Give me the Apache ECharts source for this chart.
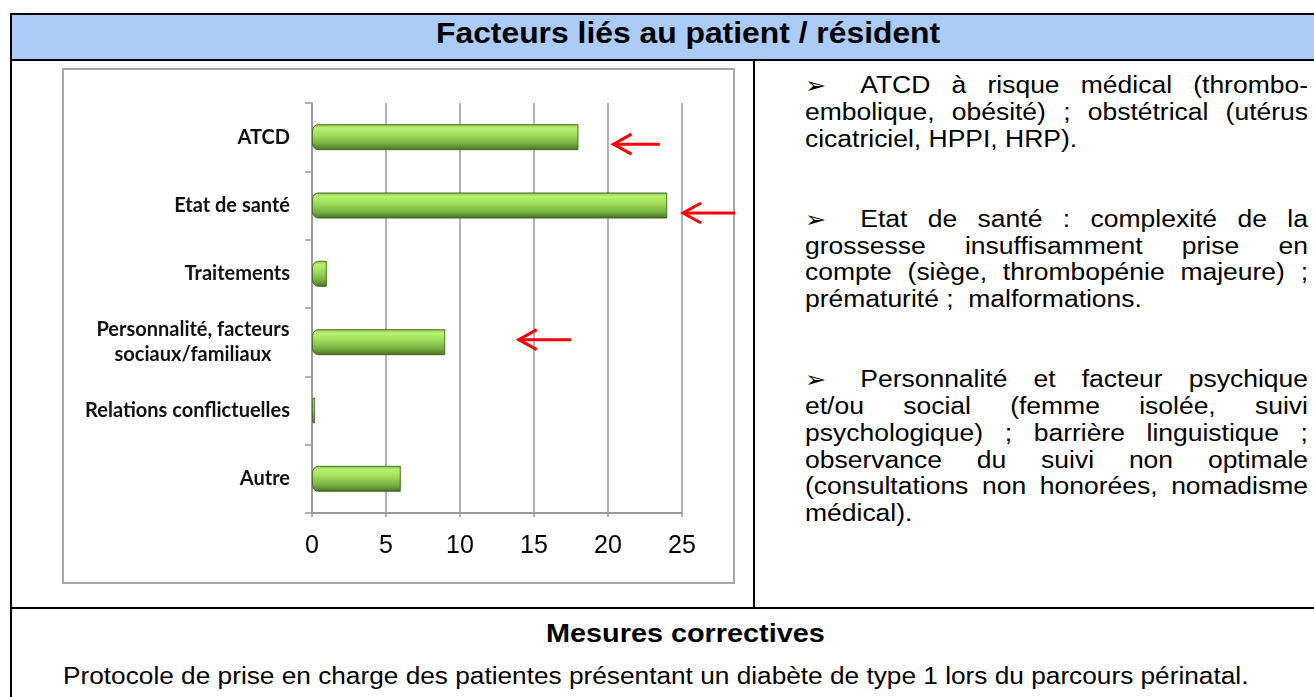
<!DOCTYPE html>
<html>
<head>
<meta charset="utf-8">
<script src="https://cdn.jsdelivr.net/npm/echarts@6/dist/echarts.min.js"></script>
<style>
  body { margin: 0; width: 1314px; height: 697px; overflow: hidden; background: #fff; position: relative;
         font-family: "Liberation Sans", Arial, sans-serif; color: #000; }
  .abs { position: absolute; }
  .fit { position: absolute; white-space: nowrap; transform-origin: 0 0; line-height: 1; }
  #notes { position: absolute; left: 805px; top: 72px; width: 437px; transform-origin: 0 0;
           font-size: 23px; line-height: 26.75px; }
  #notes div { height: 26.75px; text-align: justify; text-align-last: justify; }
  #notes div.last { text-align-last: left; }
  #notes .b { display: inline-block; width: 48px; font-family: "DejaVu Sans", sans-serif; font-size: 22px; }
  #frame { position: absolute; left: 62px; top: 68px; width: 673px; height: 516px; box-sizing: border-box;
           border: 2px solid #a6a6a6; }
  #chart { position: absolute; left: 62px; top: 68px; width: 673px; height: 516px; }
</style>
</head>
<body>
<!-- table frame -->
<div class="abs" style="left:10px;top:13px;width:1400px;height:46px;background:#adcbf7;"></div>
<div class="abs" style="left:10px;top:13px;width:1400px;height:2px;background:#000;"></div>
<div class="abs" style="left:10px;top:13px;width:2px;height:700px;background:#000;"></div>
<div class="abs" style="left:10px;top:59px;width:1400px;height:2px;background:#000;"></div>
<div class="abs" style="left:753px;top:60px;width:2px;height:548px;background:#000;"></div>
<div class="abs" style="left:10px;top:607px;width:1400px;height:2px;background:#000;"></div>

<div class="fit" data-w="504" data-cx="688" style="top:18px;font-size:30px;font-weight:bold;">Facteurs liés au patient / résident</div>

<div id="frame"></div>
<div id="chart"></div>

<div id="notes">
  <div><span class="b">➢</span>ATCD à risque médical (thrombo-</div>
  <div>embolique, obésité) ; obstétrical (utérus</div>
  <div class="last">cicatriciel, HPPI, HRP).</div>
  <div></div><div></div>
  <div><span class="b">➢</span>Etat de santé : complexité de la</div>
  <div>grossesse insuffisamment prise en</div>
  <div>compte (siège, thrombopénie majeure) ;</div>
  <div class="last">prématurité ;&nbsp; malformations.</div>
  <div></div><div></div>
  <div><span class="b">➢</span>Personnalité et facteur psychique</div>
  <div>et/ou social (femme isolée, suivi</div>
  <div>psychologique) ; barrière linguistique ;</div>
  <div>observance du suivi non optimale</div>
  <div>(consultations non honorées, nomadisme</div>
  <div class="last">médical).</div>
</div>

<div class="fit" data-w="279" data-cx="685" style="top:621px;font-size:25px;font-weight:bold;">Mesures correctives</div>
<div class="fit" data-w="1186" data-left="63" style="top:665px;font-size:23px;">Protocole de prise en charge des patientes présentant un diabète de type 1 lors du parcours périnatal.</div>

<script>
// data
const categories = ['ATCD', 'Etat de santé', 'Traitements', 'Personnalité, facteurs\nsociaux/familiaux', 'Relations conflictuelles', 'Autre'];
const values = [18, 24, 1, 9, 0.2, 6];
const xTicks = [0, 5, 10, 15, 20, 25];
// red arrows drawn next to some bars (value positions of tail and tip)
const arrowNotes = [
  { cat: 'ATCD', tail: 23.5, tip: 20.3, dy: 7 },
  { cat: 'Etat de santé', tail: 28.6, tip: 25.0, dy: 7.5 },
  { cat: 'Personnalité, facteurs\nsociaux/familiaux', tail: 17.5, tip: 13.9, dy: -2.5 }
];

// stretch html text to the widths measured on the reference
document.querySelectorAll('.fit').forEach(function (el) {
  const w = +el.dataset.w;
  const s = w / el.offsetWidth;
  el.style.transform = 'scaleX(' + s + ')';
  el.style.left = (el.dataset.cx ? (+el.dataset.cx - w / 2) : +el.dataset.left) + 'px';
});
document.getElementById('notes').style.transform = 'scaleX(1.151)';

const chart = echarts.init(document.getElementById('chart'), null, { renderer: 'canvas' });
const gray = '#9a9a9a';

let option = {
  animation: false,
  grid: { left: 250, right: 53, top: 35, bottom: 71, containLabel: false },
  xAxis: {
    type: 'value',
    min: xTicks[0],
    max: xTicks[xTicks.length - 1],
    interval: xTicks[1] - xTicks[0],
    axisLine: { show: true, lineStyle: { color: gray, width: 2 } },
    axisTick: { show: true, length: 4, lineStyle: { color: gray, width: 1.5 } },
    axisLabel: { color: '#000', fontSize: 25, fontFamily: 'Liberation Sans', margin: 21 },
    splitLine: { show: true, lineStyle: { color: gray, width: 1.5 } }
  },
  yAxis: {
    type: 'category',
    data: categories,
    inverse: true,
    axisLine: { show: true, lineStyle: { color: gray, width: 2 } },
    axisTick: { show: true, length: 7, lineStyle: { color: gray, width: 1.5 } },
    axisLabel: {
      margin: 22,
      color: '#111',
      fontFamily: 'Lato',
      fontWeight: 'bold',
      fontSize: 20,
      lineHeight: 25,
      formatter: function (v) {
        if (v.indexOf('\n') < 0) return v;
        return v.split('\n').map(function (s) { return '{c|' + s + '}'; }).join('\n');
      },
      rich: {
        c: { width: 194, align: 'center', fontFamily: 'Lato', fontWeight: 'bold', fontSize: 20, color: '#111', lineHeight: 25 }
      }
    }
  },
  series: [
    {
      type: 'bar',
      data: values,
      barWidth: 26,
      itemStyle: {
        borderRadius: [6, 0, 0, 6],
        borderColor: 'rgba(62,97,33,0.55)',
        borderWidth: 1,
        color: new echarts.graphic.LinearGradient(0, 0, 0, 1, [
          { offset: 0, color: '#86c24a' },
          { offset: 0.15, color: '#b8f272' },
          { offset: 0.4, color: '#a2de5c' },
          { offset: 0.72, color: '#7cb445' },
          { offset: 0.9, color: '#5a8a30' },
          { offset: 1, color: '#3e6121' }
        ])
      }
    }
  ]
};
chart.setOption(option);

// arrows placed through the axis scales
const arrows = arrowNotes.map(function (a) {
  const idx = categories.indexOf(a.cat);
  const tip = chart.convertToPixel({ gridIndex: 0 }, [a.tip, idx]);
  const tail = chart.convertToPixel({ gridIndex: 0 }, [a.tail, idx]);
  const y = tip[1] + a.dy;
  return {
    type: 'group',
    children: [
      { type: 'line', shape: { x1: tail[0], y1: y, x2: tip[0] + 1, y2: y }, style: { stroke: '#ff0000', lineWidth: 3 } },
      { type: 'polyline', shape: { points: [[tip[0] + 19, y - 10], [tip[0] + 1, y], [tip[0] + 19, y + 10]] },
        style: { stroke: '#ff0000', lineWidth: 3, fill: null, lineJoin: 'miter' } }
    ]
  };
});
chart.setOption({ graphic: arrows });
</script>
</body>
</html>
